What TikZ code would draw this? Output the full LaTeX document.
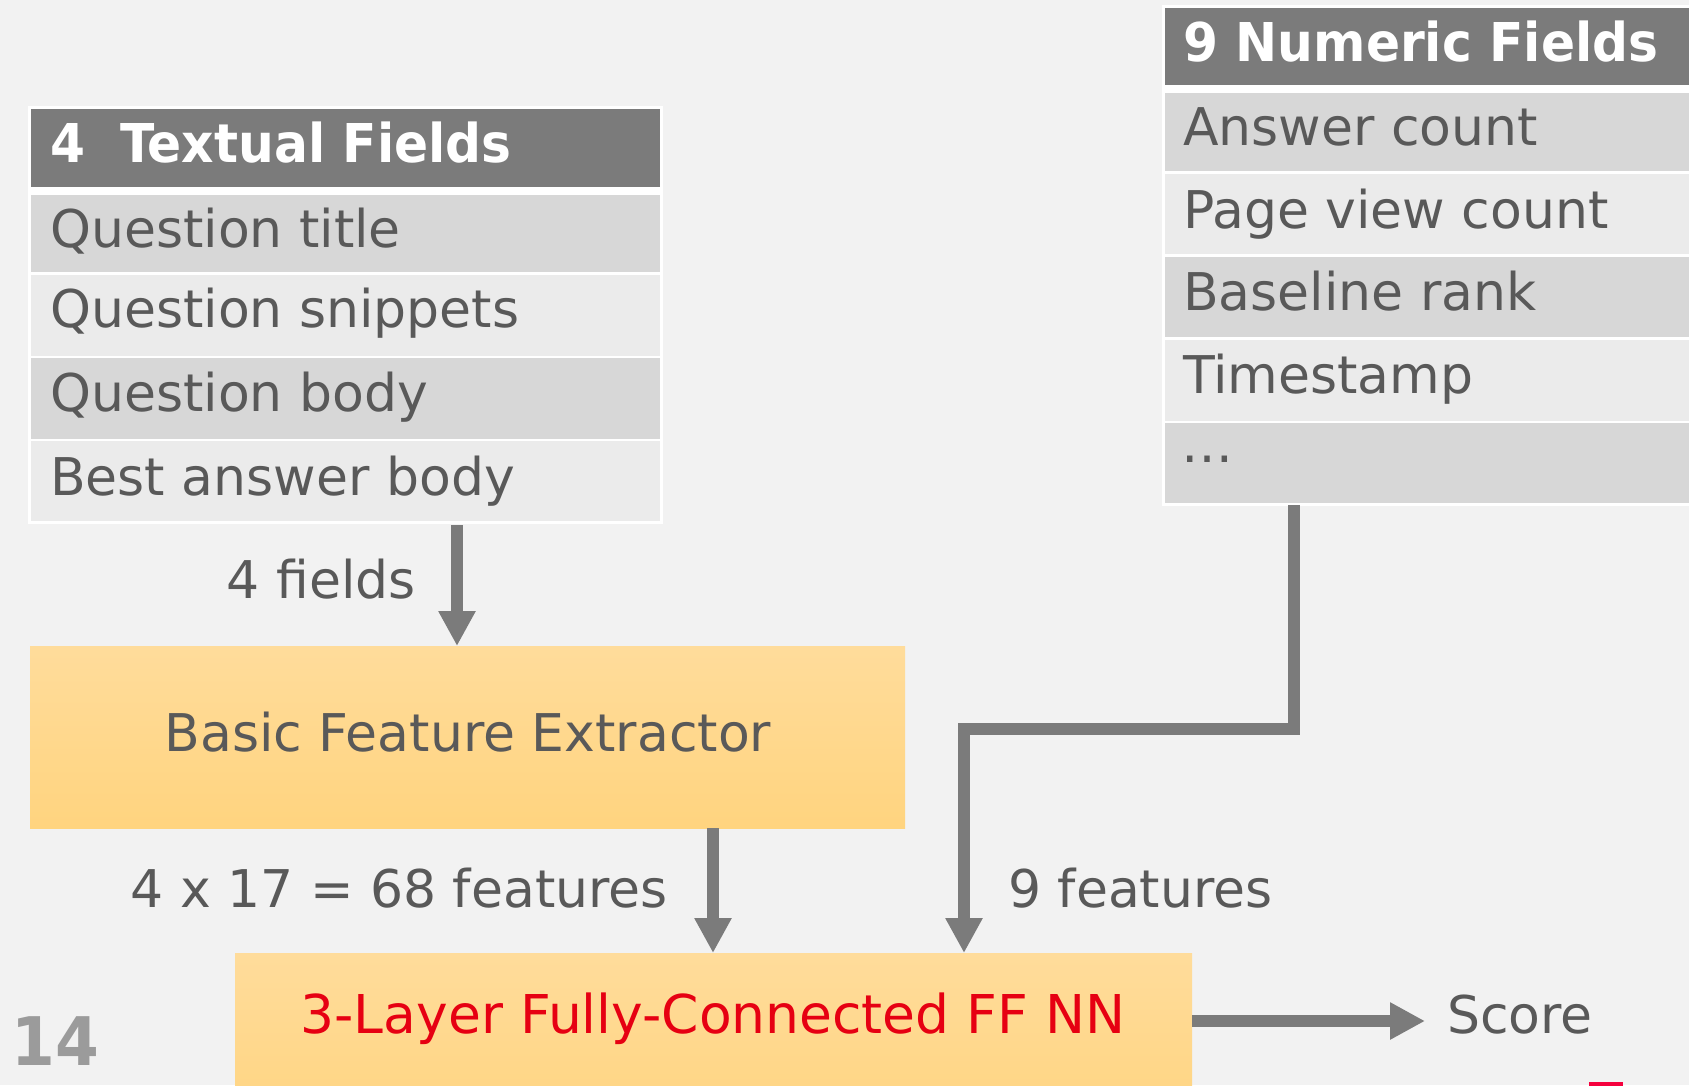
\documentclass[tikz,border=0pt]{standalone}
\usepackage{fontspec}
\setmainfont{DejaVu Sans}
\newfontfamily\hdrfont{DejaVu Sans}[FakeStretch=0.94]
\usetikzlibrary{arrows.meta,calc}
\definecolor{bg}{HTML}{F2F2F2}
\definecolor{hdr}{HTML}{7B7B7B}
\definecolor{rowdark}{HTML}{D7D7D7}
\definecolor{rowlight}{HTML}{EBEBEB}
\definecolor{txt}{HTML}{595959}
\definecolor{arrowgray}{HTML}{7B7B7B}
\definecolor{boxtop}{HTML}{FFDC9B}
\definecolor{boxbot}{HTML}{FFD47F}
\definecolor{nnred}{HTML}{E60012}
\definecolor{pagegray}{HTML}{9B9B9B}
\definecolor{markred}{HTML}{F5003D}
\begin{document}
\begin{tikzpicture}[x=1pt,y=-1pt,
  cell/.style={rectangle, inner sep=0pt, outer sep=0pt, anchor=north west},
  hdrcell/.style={cell, fill=hdr},
  darkrow/.style={cell, fill=rowdark},
  lightrow/.style={cell, fill=rowlight},
  celltext/.style={anchor=base west, inner sep=0pt, text=txt, font=\fontsize{52}{60}\selectfont},
  hdrtext/.style={anchor=base west, inner sep=0pt, text=white, font=\hdrfont\bfseries\fontsize{53.5}{60}\selectfont},
  flowbox/.style={rectangle, inner sep=0pt, outer sep=0pt, anchor=north west, top color=boxtop, bottom color=boxbot},
  lbl/.style={inner sep=0pt, text=txt, font=\fontsize{52}{60}\selectfont},
  arr/.style={draw=arrowgray, line width=11.5pt, line join=miter, -{Triangle[length=35pt,width=35pt]}}
]
\useasboundingbox (0,0) rectangle (1689,1085);
\clip (0,0) rectangle (1689,1085);
\fill[bg] (0,0) rectangle (1689,1085);

% ---- textual fields table ----
\fill[white] (28,106) rectangle (663,524);
\node[hdrcell,  minimum width=629pt, minimum height=78pt]   (thdr) at (31,109)   {};
\node[darkrow,  minimum width=629pt, minimum height=77pt]   (t1)   at (31,195)   {};
\node[lightrow, minimum width=629pt, minimum height=81pt]   (t2)   at (31,274.5) {};
\node[darkrow,  minimum width=629pt, minimum height=80.5pt] (t3)   at (31,358)   {};
\node[lightrow, minimum width=629pt, minimum height=80pt]   (t4)   at (31,441)   {};
\node[hdrtext]  (thdrtxt) at (50,162)   {4\ \ Textual Fields};
\node[celltext] (t1txt)   at (50,247)   {Question title};
\node[celltext] (t2txt)   at (50,327.5) {Question snippets};
\node[celltext] (t3txt)   at (50,411.5) {Question body};
\node[celltext] (t4txt)   at (50,495)   {Best answer body};

% ---- numeric fields table ----
\fill[white] (1162,5) rectangle (1700,506);
\node[hdrcell,  minimum width=535pt, minimum height=77.5pt] (nhdr) at (1165,7.5)   {};
\node[darkrow,  minimum width=535pt, minimum height=78pt]   (n1)   at (1165,93)    {};
\node[lightrow, minimum width=535pt, minimum height=80.5pt] (n2)   at (1165,173.5) {};
\node[darkrow,  minimum width=535pt, minimum height=80.5pt] (n3)   at (1165,256.5) {};
\node[lightrow, minimum width=535pt, minimum height=80.5pt] (n4)   at (1165,340)   {};
\node[darkrow,  minimum width=535pt, minimum height=80pt]   (n5)   at (1165,423)   {};
\node[hdrtext]  (nhdrtxt) at (1183,61.7)  {9 Numeric Fields};
\node[celltext] (n1txt)   at (1183,145)   {Answer count};
\node[celltext] (n2txt)   at (1183,228.3) {Page view count};
\node[celltext] (n3txt)   at (1183,310)   {Baseline rank};
\node[celltext] (n4txt)   at (1183,393.3) {Timestamp};
\node[celltext] (n5txt)   at (1181,462)   {…};

% ---- processing boxes ----
\node[flowbox, minimum width=875pt, minimum height=182pt] (bfe) at (30,646) {};
\node[lbl, anchor=base] (bfetxt) at (468,751) {Basic Feature Extractor};
\node[flowbox, minimum width=957pt, minimum height=182pt] (ff) at (235,953) {};
\node[lbl, anchor=base, text=nnred, font=\fontsize{53.5}{60}\selectfont] (fftxt) at (713,1033) {3-Layer Fully-Connected FF NN};
\node[lbl, anchor=base west] (score) at (1447,1033) {Score};

% ---- connector labels ----
\node[lbl, anchor=base east] (lab4)  at (416,598) {4 fields};
\node[lbl, anchor=base east] (lab68) at (668,907) {4 x 17 = 68 features};
\node[lbl, anchor=base west] (lab9)  at (1008,907) {9 features};

% ---- connectors ----
\coordinate (ax1) at (457,0);
\coordinate (ax2) at (713,0);
\coordinate (nx)  at (1294,0);
\coordinate (fx)  at (964,0);
\coordinate (bend) at (0,729);
\coordinate (sy)  at (0,1021);
\draw[arr] ([yshift=-4pt]t4.south -| ax1) -- (bfe.north -| ax1);
\draw[arr] (bfe.south -| ax2) -- (ff.north -| ax2);
\draw[arr] ([yshift=-2pt]n5.south -| nx) |- (bend -| fx) -- (ff.north -| fx);
\draw[arr] (ff.east |- sy) -- ([xshift=-22pt]score.west |- sy);

% ---- page number and edge mark ----
\node[anchor=base west, inner sep=0pt, text=pagegray, font=\hdrfont\bfseries\fontsize{67}{72}\selectfont] (pgnum) at (11,1065) {14};
\fill[markred] (1589,1082) rectangle (1623,1086);
\end{tikzpicture}
\end{document}
